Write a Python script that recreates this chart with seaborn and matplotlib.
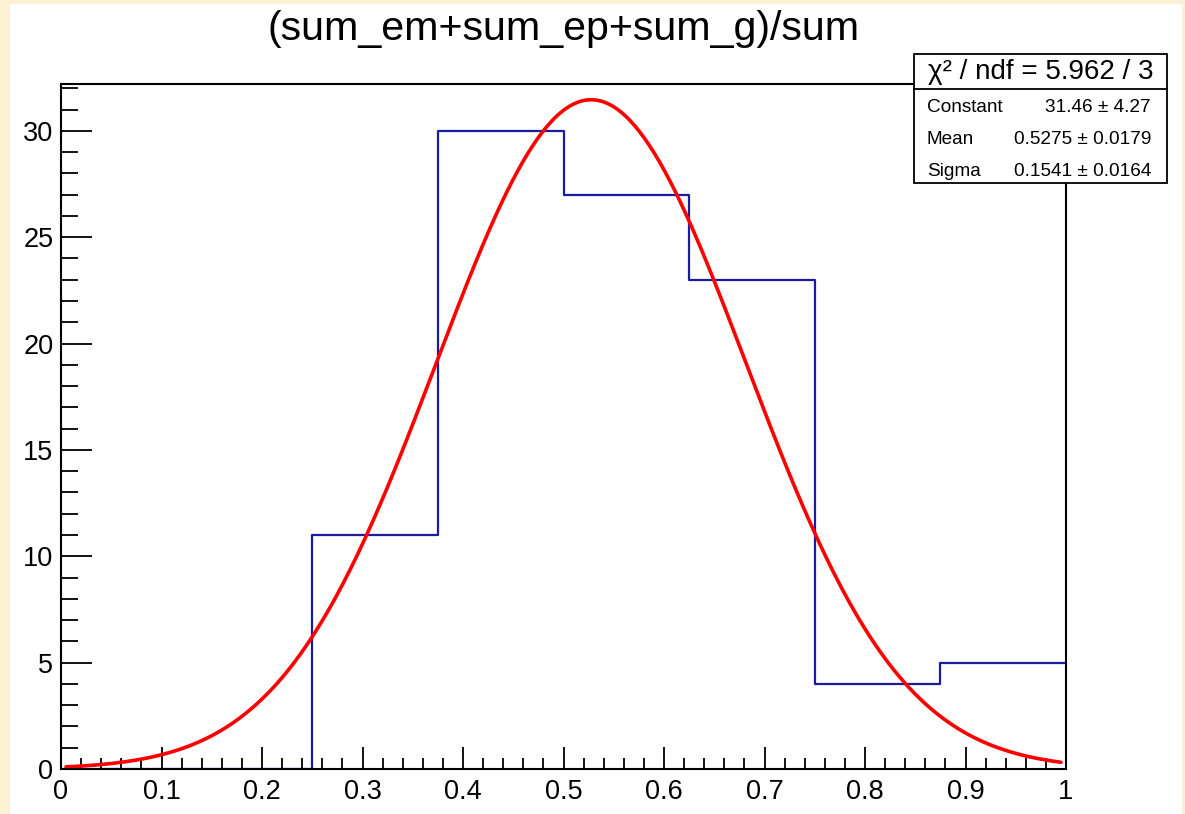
import numpy as np
import pandas as pd
import matplotlib
matplotlib.use("Agg")
import matplotlib.pyplot as plt
from matplotlib.patches import Rectangle
from matplotlib.lines import Line2D
from matplotlib.ticker import MultipleLocator, FuncFormatter
import seaborn as sns

# Histogram contents (8 bins on [0, 1])
bin_edges = [0.0, 0.125, 0.25, 0.375, 0.5, 0.625, 0.75, 0.875, 1.0]
bin_counts = [0, 0, 11, 30, 27, 23, 4, 5]

# Gaussian fit results
fit_constant = 31.46
fit_constant_err = 4.27
fit_mean = 0.5275
fit_mean_err = 0.0179
fit_sigma = 0.1541
fit_sigma_err = 0.0164
chi2 = 5.962
ndf = 3

title = "(sum_em+sum_ep+sum_g)/sum"

sns.set_theme(style="white")
plt.rcParams["font.family"] = ["Liberation Sans", "DejaVu Sans"]
plt.rcParams["text.color"] = "black"
plt.rcParams["xtick.color"] = "black"
plt.rcParams["ytick.color"] = "black"

W, H = 1185, 814
fig = plt.figure(figsize=(W / 100, H / 100), dpi=100)
fig.patch.set_facecolor("#fdf1d5")
# white canvas pad
fig.patches.append(Rectangle((10 / W, 0), (1182 - 10) / W, 1 - 4 / H,
                             transform=fig.transFigure, facecolor="white",
                             edgecolor="none", zorder=-5))

ax = fig.add_axes([61 / W, 1 - 769 / H, (1066 - 61) / W, (769 - 84) / H])
ax.set_facecolor("white")

centers = [(a + b) / 2 for a, b in zip(bin_edges[:-1], bin_edges[1:])]
df = pd.DataFrame({"x": centers, "w": bin_counts})
sns.histplot(data=df, x="x", weights="w", bins=bin_edges, element="step",
             fill=False, color="#1a1aa3", linewidth=1.6, ax=ax)

xs = np.linspace(0.005, 0.995, 400)
ys = fit_constant * np.exp(-0.5 * ((xs - fit_mean) / fit_sigma) ** 2)
sns.lineplot(x=xs, y=ys, color="#ff0000", linewidth=2.6, ax=ax)

ax.set_xlim(0, 1)
ax.set_ylim(0, 32.2)
ax.set_xlabel("")
ax.set_ylabel("")

ax.xaxis.set_major_locator(MultipleLocator(0.1))
ax.xaxis.set_minor_locator(MultipleLocator(0.02))
ax.yaxis.set_major_locator(MultipleLocator(5))
ax.yaxis.set_minor_locator(MultipleLocator(1))
ax.xaxis.set_major_formatter(FuncFormatter(lambda v, p: f"{v:g}"))
ax.yaxis.set_major_formatter(FuncFormatter(lambda v, p: f"{v:g}"))

ax.tick_params(axis="x", which="major", direction="in", length=15.5, width=1.3,
               labelsize=19.5, pad=7, colors="black")
ax.tick_params(axis="x", which="minor", direction="in", length=8, width=1.3)
ax.tick_params(axis="y", which="major", direction="in", length=22, width=1.3,
               labelsize=19.5, pad=5.5, colors="black")
ax.tick_params(axis="y", which="minor", direction="in", length=12, width=1.3)
ax.tick_params(bottom=True, left=True, top=False, right=False, which="both")

for s in ax.spines.values():
    s.set_visible(True)
    s.set_color("black")
    s.set_linewidth(1.5)

fig.text(564 / W, 1 - 29 / H, title, ha="center", va="center", fontsize=29.6,
         color="black")

# Fit statistics box
bx0, bx1 = 914 / W, 1167 / W
by_top, by_line, by_bot = 1 - 54 / H, 1 - 89 / H, 1 - 183 / H
fig.patches.append(Rectangle((bx0, by_bot), bx1 - bx0, by_top - by_bot,
                             transform=fig.transFigure, facecolor="white",
                             edgecolor="black", linewidth=1.3, zorder=5))
fig.lines.append(Line2D([bx0, bx1], [by_line, by_line], transform=fig.transFigure,
                        color="black", linewidth=1.3, zorder=6))
fig.text((bx0 + bx1) / 2, 1 - 72 / H, f"χ² / ndf = {chi2:.3f} / {ndf}",
         ha="center", va="center", fontsize=20, zorder=7)
rows = [
    ("Constant", f"{fit_constant:.2f} ± {fit_constant_err:.2f}", 108),
    ("Mean", f"{fit_mean:.4f} ± {fit_mean_err:.4f}", 140),
    ("Sigma", f"{fit_sigma:.4f} ± {fit_sigma_err:.4f}", 171),
]
for name, val, yy in rows:
    fig.text(927 / W, 1 - yy / H, name, ha="left", va="center", fontsize=13.7, zorder=7)
    fig.text(1151 / W, 1 - yy / H, val, ha="right", va="center", fontsize=13.7, zorder=7)

fig.savefig("out.png", dpi=100, facecolor=fig.get_facecolor())
